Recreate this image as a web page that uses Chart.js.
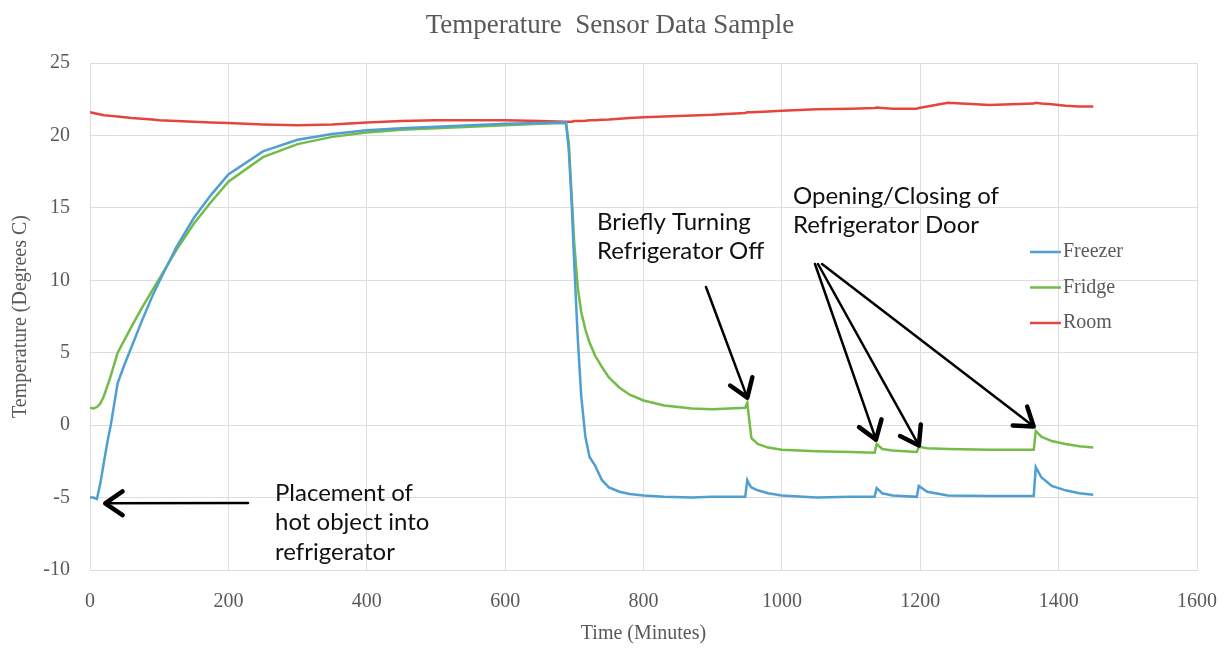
<!DOCTYPE html>
<html>
<head>
<meta charset="utf-8">
<script src="https://cdn.jsdelivr.net/npm/chart.js@4.4.1/dist/chart.umd.min.js"></script>
<style>
  body { margin: 0; background: #fff; }
  #wrap { width: 1232px; height: 650px; }
</style>
</head>
<body>
<div id="wrap"><canvas id="tempChart" width="1232" height="650"></canvas></div>
<script>
// Sample times (minutes) shared by all three sensors
const minutes = [0, 5, 10, 15, 20, 25, 30, 40, 50, 60, 75, 90, 100, 125, 150, 175, 200, 250, 300, 350,
  400, 450, 500, 550, 600, 650, 688, 692, 696, 700, 705, 710, 716, 722, 730, 740, 750, 765, 780, 800,
  830, 870, 900, 947, 950, 953, 956, 965, 980, 1000, 1050, 1100, 1134, 1137, 1145, 1160, 1195, 1198, 1210, 1240,
  1300, 1364, 1367, 1375, 1390, 1410, 1430, 1450];

const freezer = [-5.0, -5.0, -5.1, -4.0, -2.6, -1.2, 0.0, 2.9, 4.2, 5.4, 7.2, 8.9, 9.9, 12.3, 14.3, 15.9, 17.3, 18.9, 19.7, 20.1,
  20.35, 20.5, 20.6, 20.7, 20.8, 20.85, 20.9, 19.0, 15.5, 11.0, 6.0, 2.0, -0.8, -2.2, -2.8, -3.8, -4.3, -4.6, -4.75, -4.85,
  -4.95, -5.0, -4.95, -4.95, -3.8, -4.1, -4.3, -4.5, -4.7, -4.85, -5.0, -4.95, -4.95, -4.35, -4.7, -4.85, -4.95, -4.2, -4.6, -4.85,
  -4.9, -4.9, -2.9, -3.6, -4.2, -4.5, -4.7, -4.8];

const fridge = [1.2, 1.15, 1.25, 1.5, 2.0, 2.7, 3.4, 5.0, 5.9, 6.8, 8.1, 9.3, 10.1, 12.1, 13.9, 15.4, 16.8, 18.5, 19.4, 19.9,
  20.2, 20.4, 20.5, 20.6, 20.7, 20.8, 20.85, 19.5, 16.0, 12.5, 9.5, 7.8, 6.6, 5.7, 4.8, 4.0, 3.3, 2.6, 2.1, 1.7,
  1.35, 1.15, 1.1, 1.2, 1.55, 0.3, -0.9, -1.3, -1.55, -1.7, -1.8, -1.85, -1.9, -1.3, -1.65, -1.75, -1.85, -1.5, -1.6, -1.65,
  -1.7, -1.7, -0.4, -0.8, -1.1, -1.3, -1.45, -1.55];

const room = [21.6, 21.55, 21.5, 21.45, 21.4, 21.38, 21.35, 21.3, 21.25, 21.2, 21.15, 21.1, 21.05, 21.0, 20.95, 20.9, 20.85, 20.75, 20.7, 20.75,
  20.9, 21.0, 21.05, 21.05, 21.05, 21.0, 20.95, 20.95, 20.95, 21.0, 21.0, 21.0, 21.02, 21.05, 21.05, 21.08, 21.1, 21.15, 21.2, 21.25,
  21.3, 21.38, 21.42, 21.55, 21.6, 21.6, 21.6, 21.62, 21.65, 21.7, 21.8, 21.85, 21.9, 21.92, 21.9, 21.85, 21.85, 21.9, 22.0, 22.25,
  22.1, 22.2, 22.25, 22.2, 22.15, 22.05, 22.0, 22.0];

const seriesNames = ['Freezer', 'Fridge', 'Room'];
const seriesColors = ['#4f9fd3', '#74bb48', '#e6453c'];

const xTicks = [0, 200, 400, 600, 800, 1000, 1200, 1400, 1600];
const yTicks = [-10, -5, 0, 5, 10, 15, 20, 25];

const chartTitle = 'Temperature  Sensor Data Sample';

// callouts: text lines placed at pixel spots, arrows point at data values
const notes = [
  { lines: ['Placement of', 'hot object into', 'refrigerator'], x: 275, y: 493 },
  { lines: ['Briefly Turning', 'Refrigerator Off'], x: 597, y: 222 },
  { lines: ['Opening/Closing of', 'Refrigerator Door'], x: 793, y: 196 }
];
const arrows = [
  { from: [248, 503], to: [22, -5.4] },
  { from: [706, 287], to: [950, 1.9] },
  { from: [815, 264], to: [1136, -1.0] },
  { from: [818, 264], to: [1198, -1.4] },
  { from: [822, 264], to: [1364, -0.1] }
];

const tickFont = { family: '"Liberation Serif", "DejaVu Serif", serif', size: 20 };
const grey = '#595959';

const overlay = {
  id: 'overlay',
  afterDraw(chart) {
    const ctx = chart.ctx;
    const xs = chart.scales.x, ys = chart.scales.y;
    ctx.save();

    // title
    ctx.fillStyle = grey;
    ctx.font = '27px "Liberation Serif", serif';
    ctx.textAlign = 'center';
    ctx.textBaseline = 'middle';
    ctx.fillText(chartTitle, 610, 26);

    // legend inside the plot
    seriesNames.forEach((name, i) => {
      const ly = 252 + i * 35.5;
      ctx.strokeStyle = seriesColors[i];
      ctx.lineWidth = 2.5;
      ctx.beginPath();
      ctx.moveTo(1030, ly);
      ctx.lineTo(1061, ly);
      ctx.stroke();
      ctx.fillStyle = grey;
      ctx.font = '20px "Liberation Serif", serif';
      ctx.textAlign = 'left';
      ctx.textBaseline = 'middle';
      ctx.fillText(name, 1063, ly);
    });

    // callout text
    ctx.fillStyle = '#111';
    ctx.font = '24px Lato, "Open Sans", sans-serif';
    ctx.textAlign = 'left';
    ctx.textBaseline = 'middle';
    notes.forEach(n => {
      n.lines.forEach((t, k) => ctx.fillText(t, n.x, n.y + k * 29.5));
    });

    // arrows
    ctx.strokeStyle = '#000';
    ctx.lineCap = 'round';
    ctx.lineJoin = 'round';
    arrows.forEach(a => {
      const x0 = a.from[0], y0 = a.from[1];
      const x1 = xs.getPixelForValue(a.to[0]);
      const y1 = ys.getPixelForValue(a.to[1]);
      const ang = Math.atan2(y1 - y0, x1 - x0);
      ctx.lineWidth = 2.5;
      ctx.beginPath();
      ctx.moveTo(x0, y0);
      ctx.lineTo(x1, y1);
      ctx.stroke();
      ctx.lineWidth = 4.5;
      ctx.beginPath();
      ctx.moveTo(x1 - 21 * Math.cos(ang - 0.6), y1 - 21 * Math.sin(ang - 0.6));
      ctx.lineTo(x1, y1);
      ctx.lineTo(x1 - 21 * Math.cos(ang + 0.6), y1 - 21 * Math.sin(ang + 0.6));
      ctx.stroke();
    });
    ctx.restore();
  }
};

const series = [freezer, fridge, room];

new Chart(document.getElementById('tempChart'), {
  type: 'line',
  data: {
    datasets: series.map((vals, i) => ({
      label: seriesNames[i],
      data: minutes.map((m, k) => ({ x: m, y: vals[k] })),
      borderColor: seriesColors[i],
      backgroundColor: seriesColors[i],
      borderWidth: 2.5,
      pointRadius: 0,
      tension: 0
    }))
  },
  options: {
    responsive: false,
    animation: false,
    layout: { padding: { top: 63, right: 35, bottom: 0, left: 0 } },
    plugins: {
      legend: { display: false },
      tooltip: { enabled: false },
      title: { display: false }
    },
    scales: {
      x: {
        type: 'linear',
        min: 0,
        max: 1600,
        afterBuildTicks: s => { s.ticks = xTicks.map(v => ({ value: v })); },
        afterFit: s => { s.height = 80; s.paddingRight = 0; s.paddingLeft = 0; },
        ticks: { color: grey, font: tickFont, padding: 20, maxRotation: 0, callback: v => String(v) },
        grid: { color: '#dedede', drawTicks: false },
        border: { color: '#dedede' },
        title: {
          display: true,
          text: 'Time (Minutes)',
          color: grey,
          font: { family: '"Liberation Serif", serif', size: 20 },
          padding: { top: 5 }
        }
      },
      y: {
        min: -10,
        max: 25,
        afterBuildTicks: s => { s.ticks = yTicks.map(v => ({ value: v })); },
        afterFit: s => { s.width = 90; },
        ticks: { color: grey, font: tickFont, padding: 20, callback: v => String(v) },
        grid: { color: '#dedede', drawTicks: false },
        border: { color: '#dedede' },
        title: {
          display: true,
          text: 'Temperature (Degrees C)',
          color: grey,
          font: { family: '"Liberation Serif", serif', size: 20 },
          padding: { top: 9 }
        }
      }
    }
  },
  plugins: [overlay]
});
</script>
</body>
</html>
